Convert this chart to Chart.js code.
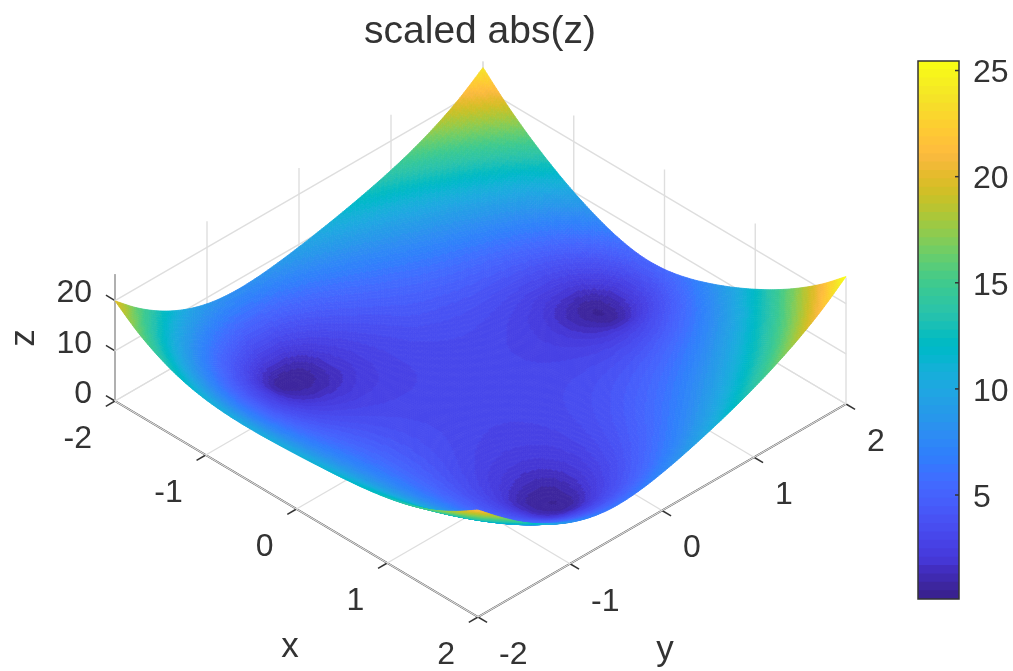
<!DOCTYPE html>
<html>
<head>
<meta charset="utf-8">
<title>scaled abs(z)</title>
<script src="https://cdn.jsdelivr.net/npm/chart.js@4"></script>
<style>
    html, body { margin: 0; padding: 0; background: #fff; }
    #wrap { position: relative; width: 1013px; height: 671px; overflow: hidden; }
    #wrap canvas { position: absolute; top: 0; }
    #surfaceChart { left: 0; }
    #colorbarChart { left: 900px; }
</style>
</head>
<body>
<div id="wrap">
    <canvas id="surfaceChart" width="1013" height="671"></canvas>
    <canvas id="colorbarChart" width="113" height="671"></canvas>
</div>
<script>
const xNodes = [-2, -1.75, -1.5, -1.25, -1, -0.75, -0.5, -0.25, 0, 0.25, 0.5, 0.75, 1, 1.25, 1.5, 1.75, 2];
const yNodes = [-2, -1.75, -1.5, -1.25, -1, -0.75, -0.5, -0.25, 0, 0.25, 0.5, 0.75, 1, 1.25, 1.5, 1.75, 2];

// one row per x node, one column per y node
const zValues = [
    [19.93, 15.86, 12.63, 10.25, 8.75, 8.11, 8.17, 8.70, 9.49, 10.44, 11.51, 12.73, 14.14, 15.85, 17.98, 20.65, 24.00],
    [16.42, 12.48, 9.32, 6.96, 5.52, 5.06, 5.39, 6.12, 7.01, 7.94, 8.89, 9.90, 11.05, 12.46, 14.26, 16.61, 19.65],
    [13.83, 10.03, 6.92, 4.51, 2.95, 2.65, 3.35, 4.31, 5.25, 6.11, 6.90, 7.68, 8.55, 9.64, 11.11, 13.15, 15.90],
    [12.06, 8.46, 5.48, 3.05, 0.85, 0.80, 2.17, 3.24, 4.12, 4.84, 5.44, 5.97, 6.53, 7.29, 8.43, 10.17, 12.69],
    [11.03, 7.69, 4.97, 2.80, 1.23, 1.04, 1.94, 2.80, 3.48, 4.10, 4.38, 4.65, 4.89, 5.29, 6.11, 7.61, 9.96],
    [10.56, 7.50, 5.10, 3.32, 2.24, 1.96, 2.28, 2.75, 3.17, 3.47, 3.64, 3.66, 3.57, 3.58, 4.07, 5.41, 7.73],
    [10.47, 7.65, 5.50, 3.98, 3.07, 2.68, 2.68, 2.85, 3.04, 3.17, 3.16, 2.96, 2.57, 2.13, 2.25, 3.62, 6.07],
    [10.60, 7.92, 5.92, 4.52, 3.63, 3.15, 2.97, 2.96, 3.00, 3.01, 2.91, 2.61, 2.02, 1.08, 0.60, 2.54, 5.19],
    [10.85, 8.23, 6.27, 4.87, 3.95, 3.39, 3.11, 3.02, 3.00, 2.98, 2.88, 2.61, 2.09, 1.37, 0.95, 2.77, 5.31],
    [11.19, 8.52, 6.50, 5.04, 4.03, 3.42, 3.09, 2.98, 2.99, 3.03, 3.03, 2.92, 2.68, 2.48, 2.76, 4.02, 6.30],
    [11.61, 8.81, 6.65, 5.03, 3.91, 3.21, 2.87, 2.83, 2.96, 3.14, 3.32, 3.44, 3.53, 3.75, 4.35, 5.68, 7.87],
    [12.17, 9.17, 6.77, 4.93, 3.59, 2.73, 2.41, 2.53, 2.87, 3.30, 3.72, 4.13, 4.54, 5.11, 6.04, 7.55, 9.82],
    [12.99, 9.71, 7.02, 4.86, 3.17, 2.01, 1.64, 2.09, 2.80, 3.54, 4.26, 4.95, 5.70, 6.62, 7.87, 9.64, 12.10],
    [14.19, 10.60, 7.60, 5.10, 3.00, 1.00, 0.65, 1.77, 2.94, 4.00, 5.02, 6.03, 7.10, 8.35, 9.96, 12.01, 14.72],
    [15.93, 12.05, 8.76, 6.00, 3.68, 1.55, 0.85, 2.31, 3.63, 4.90, 6.16, 7.44, 8.83, 10.42, 12.38, 14.74, 17.76],
    [18.35, 14.20, 10.70, 7.78, 5.47, 3.91, 3.42, 3.99, 5.12, 6.46, 7.87, 9.37, 11.03, 12.94, 15.18, 17.94, 21.28],
    [21.30, 17.20, 13.53, 10.54, 8.25, 6.79, 6.24, 6.56, 7.47, 8.74, 10.24, 11.92, 13.83, 16.04, 18.62, 21.70, 25.39],
];

const xTicks = [-2, -1, 0, 1, 2];
const yTicks = [-2, -1, 0, 1, 2];
const zTicks = [0, 10, 20];
const colorbarTicks = [5, 10, 15, 20, 25];
const zLimits = [0, 25.2];
const colorLimits = [0.1, 25.45];

const parula = [
    [0.2250,0.1300,0.5700],[0.2380,0.1480,0.6200],[0.2480,0.1650,0.6900],[0.2578,0.1818,0.7511],
    [0.2706,0.2147,0.8364],[0.2751,0.2342,0.8710],[0.2783,0.2559,0.8991],[0.2803,0.2782,0.9221],
    [0.2813,0.3006,0.9414],[0.2810,0.3228,0.9579],[0.2795,0.3447,0.9717],[0.2760,0.3667,0.9829],
    [0.2699,0.3892,0.9906],[0.2602,0.4123,0.9952],[0.2440,0.4358,0.9988],[0.2206,0.4603,0.9973],
    [0.1963,0.4847,0.9892],[0.1834,0.5074,0.9798],[0.1786,0.5289,0.9682],[0.1764,0.5499,0.9520],
    [0.1687,0.5703,0.9359],[0.1540,0.5902,0.9218],[0.1460,0.6091,0.9079],[0.1380,0.6276,0.8973],
    [0.1248,0.6459,0.8883],[0.1113,0.6635,0.8763],[0.0952,0.6798,0.8598],[0.0689,0.6948,0.8394],
    [0.0297,0.7082,0.8163],[0.0036,0.7203,0.7917],[0.0067,0.7312,0.7660],[0.0433,0.7411,0.7394],
    [0.0964,0.7500,0.7120],[0.1408,0.7584,0.6842],[0.1717,0.7670,0.6554],[0.1938,0.7758,0.6251],
    [0.2161,0.7843,0.5923],[0.2470,0.7918,0.5567],[0.2906,0.7973,0.5188],[0.3406,0.8008,0.4789],
    [0.3909,0.8029,0.4354],[0.4456,0.8024,0.3909],[0.5044,0.7993,0.3480],[0.5616,0.7942,0.3045],
    [0.6174,0.7876,0.2612],[0.6720,0.7793,0.2227],[0.7242,0.7698,0.1910],[0.7738,0.7598,0.1646],
    [0.8203,0.7498,0.1535],[0.8634,0.7406,0.1596],[0.9035,0.7330,0.1774],[0.9393,0.7288,0.2100],
    [0.9728,0.7298,0.2394],[0.9956,0.7434,0.2371],[0.9970,0.7659,0.2199],[0.9952,0.7893,0.2028],
    [0.9892,0.8136,0.1885],[0.9786,0.8386,0.1766],[0.9676,0.8639,0.1643],[0.9610,0.8890,0.1537],
    [0.9597,0.9135,0.1423],[0.9628,0.9373,0.1265],[0.9691,0.9606,0.1064],[0.9769,0.9839,0.0805],
];
const parulaCss = parula.map(c => `rgb(${Math.round(c[0] * 255)},${Math.round(c[1] * 255)},${Math.round(c[2] * 255)})`);

const axisColor = '#333333';
const gridColor = '#dedede';
const fontFamily = '"Liberation Sans", Arial, sans-serif';

// view direction: how one data unit moves on the flat view scales
function project(x, y, z) {
    return {
        x: 480.5 + 90.75 * x + 92 * y,
        y: 402.5 + 54 * x - 53.25 * y - 5.02 * z,
    };
}

function colorIndex(z) {
    const t = (z - colorLimits[0]) / (colorLimits[1] - colorLimits[0]);
    return Math.max(0, Math.min(parula.length - 1, Math.floor(t * parula.length)));
}

function nodeValue(i, j) {
    const last = zValues.length - 1;
    if (i < 0) return 2 * nodeValue(0, j) - nodeValue(1, j);
    if (i > last) return 2 * nodeValue(last, j) - nodeValue(last - 1, j);
    if (j < 0) return 2 * nodeValue(i, 0) - nodeValue(i, 1);
    if (j > last) return 2 * nodeValue(i, last) - nodeValue(i, last - 1);
    return zValues[i][j];
}

function catmull(a, b, c, d, t) {
    return b + 0.5 * t * (c - a + t * (2 * a - 5 * b + 4 * c - d + t * (3 * (b - c) + d - a)));
}

// shading between the nodes, same job as "shading interp"
function shadedZ(u, v) {
    const i = Math.min(Math.floor(u), zValues.length - 2);
    const j = Math.min(Math.floor(v), zValues.length - 2);
    const row = [];
    for (let k = -1; k <= 2; k++) {
        row.push(catmull(nodeValue(i + k, j - 1), nodeValue(i + k, j), nodeValue(i + k, j + 1), nodeValue(i + k, j + 2), v - j));
    }
    return Math.max(colorLimits[0], catmull(row[0], row[1], row[2], row[3], u - i));
}

function segment(from, to, color, width) {
    return {
        type: 'scatter',
        showLine: true,
        data: [project(...from), project(...to)],
        borderColor: color,
        borderWidth: width,
        pointRadius: 0,
        clip: false,
    };
}

function buildGrid() {
    const [x0, x1] = [xTicks[0], xTicks[xTicks.length - 1]];
    const [y0, y1] = [yTicks[0], yTicks[yTicks.length - 1]];
    const [z0, z1] = zLimits;
    const lines = [];
    xTicks.forEach(x => {
        lines.push(segment([x, y0, z0], [x, y1, z0], gridColor, 1.4));
        lines.push(segment([x, y1, z0], [x, y1, z1], gridColor, 1.4));
    });
    yTicks.forEach(y => {
        lines.push(segment([x0, y, z0], [x1, y, z0], gridColor, 1.4));
        lines.push(segment([x0, y, z0], [x0, y, z1], gridColor, 1.4));
    });
    zTicks.forEach(z => {
        lines.push(segment([x0, y0, z], [x0, y1, z], gridColor, 1.4));
        lines.push(segment([x0, y1, z], [x1, y1, z], gridColor, 1.4));
    });
    return lines;
}

function buildAxes() {
    const [x0, x1] = [xTicks[0], xTicks[xTicks.length - 1]];
    const [y0, y1] = [yTicks[0], yTicks[yTicks.length - 1]];
    const [z0, z1] = zLimits;
    const lines = [
        segment([x0, y0, z0], [x0, y0, z1], axisColor, 1.8),
        segment([x0, y0, z0], [x1, y0, z0], axisColor, 1.8),
        segment([x1, y0, z0], [x1, y1, z0], axisColor, 1.8),
    ];
    xTicks.forEach(x => lines.push(segment([x, y0, z0], [x, y0 - 0.1, z0], axisColor, 1.5)));
    yTicks.forEach(y => lines.push(segment([x1, y, z0], [x1 + 0.1, y, z0], axisColor, 1.5)));
    zTicks.forEach(z => lines.push(segment([x0, y0, z], [x0 - 0.1, y0, z], axisColor, 1.5)));
    return lines;
}

const surfaceNodes = [];
xNodes.forEach((x, i) => yNodes.forEach((y, j) => surfaceNodes.push(project(x, y, zValues[i][j]))));

const surfacePlugin = {
    id: 'surface',
    afterDatasetsDraw(chart) {
        const { ctx, scales } = chart;
        const steps = 12;
        const size = (xNodes.length - 1) * steps + 1;
        const xStep = (xNodes[1] - xNodes[0]) / steps;
        const yStep = (yNodes[1] - yNodes[0]) / steps;
        const zs = [], px = [], py = [];
        for (let a = 0; a < size; a++) {
            zs.push([]); px.push([]); py.push([]);
            for (let b = 0; b < size; b++) {
                const z = shadedZ(a / steps, b / steps);
                const p = project(xNodes[0] + a * xStep, yNodes[0] + b * yStep, z);
                zs[a].push(z);
                px[a].push(scales.x.getPixelForValue(p.x));
                py[a].push(scales.y.getPixelForValue(p.y));
            }
        }
        ctx.save();
        ctx.lineWidth = 0.8;
        ctx.lineJoin = 'round';
        // back to front: far corner is low x, high y
        for (let a = 0; a < size - 1; a++) {
            for (let b = size - 2; b >= 0; b--) {
                const mean = (zs[a][b] + zs[a + 1][b] + zs[a][b + 1] + zs[a + 1][b + 1]) / 4;
                const color = parulaCss[colorIndex(mean)];
                ctx.fillStyle = color;
                ctx.strokeStyle = color;
                ctx.beginPath();
                ctx.moveTo(px[a][b], py[a][b]);
                ctx.lineTo(px[a + 1][b], py[a + 1][b]);
                ctx.lineTo(px[a + 1][b + 1], py[a + 1][b + 1]);
                ctx.lineTo(px[a][b + 1], py[a][b + 1]);
                ctx.closePath();
                ctx.fill();
                ctx.stroke();
            }
        }
        ctx.restore();
    },
};

const labelsPlugin = {
    id: 'labels3d',
    afterDraw(chart) {
        const { ctx, scales } = chart;
        const at = p => [scales.x.getPixelForValue(p.x), scales.y.getPixelForValue(p.y)];
        const [x0, x1] = [xTicks[0], xTicks[xTicks.length - 1]];
        const y0 = yTicks[0];
        ctx.save();
        ctx.fillStyle = axisColor;
        ctx.textBaseline = 'middle';
        ctx.font = `32px ${fontFamily}`;

        ctx.textAlign = 'right';
        xTicks.forEach(x => {
            const [px, py] = at(project(x, y0, 0));
            ctx.fillText(String(x), px - 23, py + 38);
        });
        zTicks.forEach(z => {
            const [px, py] = at(project(x0, y0, z));
            ctx.fillText(String(z), px - 23, py - 7);
        });
        ctx.textAlign = 'left';
        yTicks.forEach(y => {
            const [px, py] = at(project(x1, y, 0));
            ctx.fillText(String(y), px + 21, py + 38);
        });

        ctx.textAlign = 'center';
        ctx.font = `35px ${fontFamily}`;
        ctx.fillText('x', 290, 647);
        ctx.fillText('y', 665, 650);
        ctx.save();
        ctx.translate(24, 338);
        ctx.rotate(-Math.PI / 2);
        ctx.fillText('z', 0, 0);
        ctx.restore();

        ctx.font = `39px ${fontFamily}`;
        ctx.fillText('scaled abs(z)', 480, 32);
        ctx.restore();
    },
};

new Chart(document.getElementById('surfaceChart'), {
    type: 'scatter',
    data: {
        datasets: [
            { label: 'surface nodes', data: surfaceNodes, pointRadius: 0, showLine: false },
            ...buildGrid(),
            ...buildAxes(),
        ],
    },
    options: {
        responsive: false,
        animation: false,
        events: [],
        layout: { padding: 0 },
        plugins: { legend: { display: false }, tooltip: { enabled: false } },
        scales: {
            x: { type: 'linear', min: 0, max: 1013, display: false },
            y: { type: 'linear', min: 0, max: 671, reverse: true, display: false },
        },
    },
    plugins: [surfacePlugin, labelsPlugin],
});

const colorbarFrame = {
    id: 'colorbarFrame',
    afterDraw(chart) {
        const { ctx, chartArea, scales } = chart;
        ctx.save();
        ctx.strokeStyle = axisColor;
        ctx.lineWidth = 1.5;
        ctx.strokeRect(chartArea.left, chartArea.top, chartArea.width, chartArea.height);
        colorbarTicks.forEach(v => {
            const py = scales.y.getPixelForValue(v);
            ctx.beginPath();
            ctx.moveTo(chartArea.right, py);
            ctx.lineTo(chartArea.right - 4, py);
            ctx.stroke();
        });
        ctx.restore();
    },
};

new Chart(document.getElementById('colorbarChart'), {
    type: 'bar',
    data: {
        labels: [''],
        // Chart.js paints the first dataset last, so each band runs up from the
        // bottom and the lower bands cover it, which leaves no seams
        datasets: parulaCss.map((color, i) => ({
            data: [[colorLimits[0], colorLimits[0] + (colorLimits[1] - colorLimits[0]) * (i + 1) / parulaCss.length]],
            backgroundColor: color,
            barPercentage: 1,
            categoryPercentage: 1,
            grouped: false,
        })),
    },
    options: {
        responsive: false,
        animation: false,
        events: [],
        layout: { padding: { left: 18, top: 61, bottom: 72, right: 0 } },
        plugins: { legend: { display: false }, tooltip: { enabled: false } },
        scales: {
            x: { display: false },
            y: {
                position: 'right',
                min: colorLimits[0],
                max: colorLimits[1],
                grid: { display: false, drawTicks: false },
                border: { display: false },
                afterBuildTicks(scale) {
                    scale.ticks = colorbarTicks.map(value => ({ value }));
                },
                afterFit(scale) {
                    scale.width = 54;
                },
                ticks: {
                    color: axisColor,
                    padding: 14,
                    labelOffset: 3,
                    font: { family: fontFamily, size: 32 },
                },
            },
        },
    },
    plugins: [colorbarFrame],
});
</script>
</body>
</html>
